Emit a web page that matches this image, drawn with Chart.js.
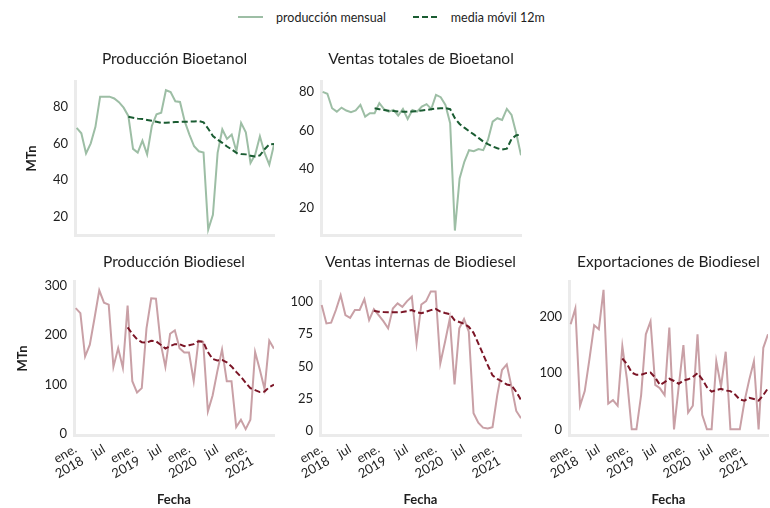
<!DOCTYPE html>
<html lang="es">
<head>
<meta charset="utf-8">
<script src="https://cdn.jsdelivr.net/npm/chart.js@4.4.1/dist/chart.umd.min.js"></script>
<style>
  html, body { margin: 0; padding: 0; background: #ffffff; }
  body { width: 770px; height: 508px; position: relative; overflow: hidden; font-family: Lato, "Liberation Sans", sans-serif; }
  canvas.panel { position: absolute; }
  #legend { position: absolute; top: 9px; left: 238px; height: 16px; display: flex; align-items: center; font-size: 12.5px; color: #1e1e1e; white-space: nowrap; }
  #legend .item { display: flex; align-items: center; }
  #legend svg { display: block; margin-right: 13px; }
</style>
</head>
<body>
<div id="legend">
  <div class="item" style="margin-right:27px">
    <svg width="25" height="4"><line x1="0" y1="2" x2="25" y2="2" stroke="#9dbea5" stroke-width="2"/></svg>
    <span>producción mensual</span>
  </div>
  <div class="item">
    <svg width="25" height="4"><line x1="0" y1="2" x2="25" y2="2" stroke="#1a5c32" stroke-width="2" stroke-dasharray="6 3"/></svg>
    <span>media móvil 12m</span>
  </div>
</div>
<canvas id="c1" class="panel"></canvas>
<canvas id="c2" class="panel"></canvas>
<canvas id="c3" class="panel"></canvas>
<canvas id="c4" class="panel"></canvas>
<canvas id="c5" class="panel"></canvas>
<script>
// Months covered by the monthly series
const months = [
  '2018-01','2018-02','2018-03','2018-04','2018-05','2018-06','2018-07','2018-08','2018-09','2018-10','2018-11','2018-12',
  '2019-01','2019-02','2019-03','2019-04','2019-05','2019-06','2019-07','2019-08','2019-09','2019-10','2019-11','2019-12',
  '2020-01','2020-02','2020-03','2020-04','2020-05','2020-06','2020-07','2020-08','2020-09','2020-10','2020-11','2020-12',
  '2021-01','2021-02','2021-03','2021-04','2021-05','2021-06','2021-07'
];

// Date axis ticks and their labels
const xTickMonths = ['2018-01','2018-07','2019-01','2019-07','2020-01','2020-07','2021-01'];
const xTickLabels = [['ene.','2018'], 'jul', ['ene.','2019'], 'jul', ['ene.','2020'], 'jul', ['ene.','2021']];

// The 12-month moving average starts with the twelfth month
const movingAverageStart = '2018-12';

// Bioetanol (MTn)
const bioetanolProduccion = [68.5,65.5,54.5,60,69,85.5,85.5,85.5,84.5,82.5,79.5,75,
  57,55,61.5,54,69.5,75.8,76.7,89,88,83,82.6,72,
  64.8,58.4,55.7,55,13,21,54.8,67.6,62.4,64.8,55.7,71.2,
  66.1,49.3,53.9,63.9,54.8,48.4,59.3];
const bioetanolProduccionMedia = [74.5,
  74,73.5,73.3,72.8,72.3,71.8,71.2,71.2,71.4,71.6,71.7,71.8,
  71.9,72,72.2,71.5,68,64,62,60.3,58.3,56.7,54.8,54.2,
  54,53.2,52.8,53.4,56.8,59.4,59.6];

const bioetanolVentas = [80,79,71.5,69.7,71.8,70.3,69.4,70.3,73.2,67.1,68.9,68.9,
  74.1,71,69.7,70.6,67.7,71.1,65.9,70.6,69.7,72.3,73.6,71.1,
  78.4,77.2,73.2,63.7,8,35,43.7,49.7,49.2,50.3,49.7,55,
  64.5,66.3,65.4,71.1,68,58.4,47.1];
const bioetanolVentasMedia = [71.5,
  71,70.5,70.2,70,69.8,69.7,69.7,69.8,70,70.3,70.6,71,
  71.3,71.5,71.5,71,66.3,63.3,61.4,59.6,57.9,56.1,54.2,52.8,
  51.6,50.7,50,50.5,55.5,57.5,57.7];

// Biodiesel (MTn)
const biodieselProduccion = [255,245,157,181,235,291,266,262,136,174,134,260,
  107,84,93,214,275,274,184,136,203,210,174,165,
  165,107,189,187,46,78,127,171,107,107,14,29,
  10,29,166,130,91,189,173];
const biodieselProduccionMedia = [216,
  203,192,186,185,189,188,181,173,178,182,182,178,
  180,182,188,187,166,152,149,150,145,137,126,116,
  104,93,89,85,86,95,100];

const biodieselVentasInternas = [97.4,83.2,83.8,93.6,105,89.7,87.6,93.6,93.6,102,85.8,94.3,
  89.7,85,79.4,94.8,98.7,96.1,100.5,103.9,67.8,97.9,100.5,108,
  108,52.3,69,87,36,79.4,86.6,76.8,13.7,6.4,2.6,2,
  3,27.8,47.2,51.5,34.3,15.5,9.8];
const biodieselVentasInternasMedia = [93,
  92.3,92,91.8,91.8,91.8,92,92.8,93.6,92,91.1,92.3,93.5,
  94.5,92.4,91.3,90.5,85.8,84.3,83,80.6,76,67.8,59.5,51,
  43,40.3,38.3,36,35.3,30.3,24];

const biodieselExportaciones = [187,215,42,68,125,185,178,248,46,52,42,148,
  88,0,0,61,169,192,79,73,61,181,0,76,
  150,30,42,169,26,0,0,121,76,138,0,0,
  0,50,88,121,0,145,169];
const biodieselExportacionesMedia = [126,
  116,101,97,97,100,101,92,79,84,90,86,81,
  87,89,93,100,89,75,67,70,72,69,68,62,
  53,51,56,54,51,61,73];

const colors = {
  bioetanol: { monthly: '#9dbea5', average: '#1a5c32' },
  biodiesel: { monthly: '#c9a0a6', average: '#7b1526' }
};
const spineColor = '#ebebeb';
const textColor = '#1e1e1e';
const fontFamily = 'Lato, "Liberation Sans", sans-serif';

const panels = [
  { canvas: 'c1', title: 'Producción Bioetanol', fuel: 'bioetanol',
    monthly: bioetanolProduccion, average: bioetanolProduccionMedia,
    yTicks: [20, 40, 60, 80], yMin: 10, yMax: 93.5,
    box: { left: 0, top: 40, width: 280, height: 200 }, padLeft: 20, yWidth: 55, padRight: 6,
    yTitle: true, xLabels: false },
  { canvas: 'c2', title: 'Ventas totales de Bioetanol', fuel: 'bioetanol',
    monthly: bioetanolVentas, average: bioetanolVentasMedia,
    yTicks: [20, 40, 60, 80], yMin: 5.7, yMax: 85.1,
    box: { left: 280, top: 40, width: 248, height: 200 }, padLeft: 0, yWidth: 41, padRight: 7,
    yTitle: false, xLabels: false },
  { canvas: 'c3', title: 'Producción Biodiesel', fuel: 'biodiesel',
    monthly: biodieselProduccion, average: biodieselProduccionMedia,
    yTicks: [0, 100, 200, 300], yMin: -2, yMax: 308,
    box: { left: 0, top: 245, width: 280, height: 263 }, padLeft: 11, yWidth: 63, padRight: 6,
    yTitle: true, xLabels: true },
  { canvas: 'c4', title: 'Ventas internas de Biodiesel', fuel: 'biodiesel',
    monthly: biodieselVentasInternas, average: biodieselVentasInternasMedia,
    yTicks: [0, 25, 50, 75, 100], yMin: -3.1, yMax: 115.3,
    box: { left: 280, top: 245, width: 248, height: 263 }, padLeft: 0, yWidth: 40, padRight: 7,
    yTitle: false, xLabels: true },
  { canvas: 'c5', title: 'Exportaciones de Biodiesel', fuel: 'biodiesel',
    monthly: biodieselExportaciones, average: biodieselExportacionesMedia,
    yTicks: [0, 100, 200], yMin: -10, yMax: 262,
    box: { left: 527, top: 245, width: 243, height: 263 }, padLeft: 0, yWidth: 42, padRight: 2,
    yTitle: false, xLabels: true }
];

const avgOffset = months.indexOf(movingAverageStart);

function drawPanel(p) {
  const cv = document.getElementById(p.canvas);
  cv.width = p.box.width; cv.height = p.box.height;
  cv.style.left = p.box.left + 'px'; cv.style.top = p.box.top + 'px';
  cv.style.width = p.box.width + 'px'; cv.style.height = p.box.height + 'px';
  const pal = colors[p.fuel];
  const top = p.xLabels ? { pt: 8, pb: 11 } : { pt: 10, pb: 14 };

  new Chart(cv, {
    type: 'line',
    data: {
      datasets: [
        { label: 'producción mensual', order: 2,
          data: p.monthly.map((v, i) => ({ x: i, y: v })),
          borderColor: pal.monthly, borderWidth: 2, pointRadius: 0, tension: 0, fill: false },
        { label: 'media móvil 12m', order: 1,
          data: p.average.map((v, i) => ({ x: i + avgOffset, y: v })),
          borderColor: pal.average, borderWidth: 2, borderDash: [6, 3], pointRadius: 0, tension: 0, fill: false }
      ]
    },
    options: {
      responsive: false, animation: false, events: [],
      layout: { padding: { left: p.padLeft, right: p.padRight, top: 0, bottom: 0 } },
      plugins: {
        legend: { display: false },
        tooltip: { enabled: false },
        title: { display: true, text: p.title, fullSize: false, color: textColor,
          font: { family: fontFamily, size: 15.5, weight: 'normal', lineHeight: 1.16 },
          padding: { top: top.pt, bottom: top.pb } }
      },
      scales: {
        x: {
          type: 'linear', min: -0.35, max: months.length - 1,
          grid: { display: false, drawTicks: false },
          border: { display: true, color: spineColor, width: 3 },
          afterBuildTicks: s => { s.ticks = xTickMonths.map(m => ({ value: months.indexOf(m) })); },
          ticks: { display: p.xLabels, autoSkip: false, minRotation: 30, maxRotation: 30, padding: 7,
            color: textColor, font: { family: fontFamily, size: 13, lineHeight: 1.05 },
            callback: v => xTickLabels[xTickMonths.indexOf(months[v])] },
          title: { display: p.xLabels, text: 'Fecha', color: textColor,
            font: { family: fontFamily, size: 13, weight: 'bold', lineHeight: 1.2 }, padding: { top: 0, bottom: 0 } },
          afterFit: s => { s.height = p.xLabels ? 73 : 5; s.paddingLeft = 0; s.paddingRight = 0; }
        },
        y: {
          min: p.yMin, max: p.yMax,
          grid: { display: false, drawTicks: false },
          border: { display: true, color: spineColor, width: 3 },
          afterBuildTicks: s => { s.ticks = p.yTicks.map(v => ({ value: v })); },
          ticks: { padding: 7, color: textColor, font: { family: fontFamily, size: 13 } },
          title: { display: p.yTitle, text: 'MTn', color: textColor,
            font: { family: fontFamily, size: 13, weight: 'bold', lineHeight: 1.2 }, padding: { top: 4, bottom: 0 } },
          afterFit: s => { s.width = p.yWidth; s.paddingTop = 0; s.paddingBottom = 0; }
        }
      }
    }
  });
}

panels.forEach(drawPanel);
</script>
</body>
</html>
